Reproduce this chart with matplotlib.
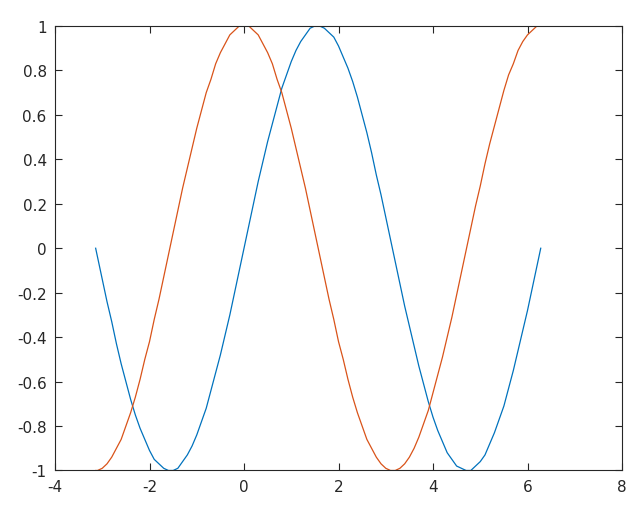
import matplotlib
matplotlib.use('Agg')
import matplotlib.pyplot as plt

plt.rcParams['axes.unicode_minus'] = False

# values
x = [-3.14, -3.1, -3.0, -2.9, -2.8, -2.7, -2.6, -2.5, -2.4, -2.3, -2.2,
     -2.1, -2.0, -1.9, -1.8, -1.7, -1.6, -1.5, -1.4, -1.3, -1.2,
     -1.1, -1.0, -0.9, -0.8, -0.7, -0.6, -0.5, -0.4, -0.3, -0.2,
     -0.1, 0.0, 0.1, 0.2, 0.3, 0.4, 0.5, 0.6, 0.7, 0.8,
     0.9, 1.0, 1.1, 1.2, 1.3, 1.4, 1.5, 1.6, 1.7, 1.8,
     1.9, 2.0, 2.1, 2.2, 2.3, 2.4, 2.5, 2.6, 2.7, 2.8,
     2.9, 3.0, 3.1, 3.2, 3.3, 3.4, 3.5, 3.6, 3.7, 3.8,
     3.9, 4.0, 4.1, 4.2, 4.3, 4.4, 4.5, 4.6, 4.7, 4.8,
     4.9, 5.0, 5.1, 5.2, 5.3, 5.4, 5.5, 5.6, 5.7, 5.8,
     5.9, 6.0, 6.1, 6.2, 6.28]
blue = [0.00, -0.04, -0.14, -0.24, -0.33, -0.43, -0.52, -0.60, -0.68, -0.75, -0.81,
        -0.86, -0.91, -0.95, -0.97, -0.99, -1.00, -1.00, -0.99, -0.96, -0.93,
        -0.89, -0.84, -0.78, -0.72, -0.64, -0.56, -0.48, -0.39, -0.30, -0.20,
        -0.10, 0.00, 0.10, 0.20, 0.30, 0.39, 0.48, 0.56, 0.64, 0.72,
        0.78, 0.84, 0.89, 0.93, 0.96, 0.99, 1.00, 1.00, 0.99, 0.97,
        0.95, 0.91, 0.86, 0.81, 0.75, 0.68, 0.60, 0.52, 0.43, 0.33,
        0.24, 0.14, 0.04, -0.06, -0.16, -0.26, -0.35, -0.44, -0.53, -0.61,
        -0.69, -0.76, -0.82, -0.87, -0.92, -0.95, -0.98, -0.99, -1.00, -1.00,
        -0.98, -0.96, -0.93, -0.88, -0.83, -0.77, -0.71, -0.63, -0.55, -0.46,
        -0.37, -0.28, -0.18, -0.08, 0.00]
orange = [-1.00, -1.00, -0.99, -0.97, -0.94, -0.90, -0.86, -0.80, -0.74, -0.67, -0.59,
          -0.50, -0.42, -0.32, -0.23, -0.13, -0.03, 0.07, 0.17, 0.27, 0.36,
          0.45, 0.54, 0.62, 0.70, 0.76, 0.83, 0.88, 0.92, 0.96, 0.98,
          1.00, 1.00, 1.00, 0.98, 0.96, 0.92, 0.88, 0.83, 0.76, 0.70,
          0.62, 0.54, 0.45, 0.36, 0.27, 0.17, 0.07, -0.03, -0.13, -0.23,
          -0.32, -0.42, -0.50, -0.59, -0.67, -0.74, -0.80, -0.86, -0.90, -0.94,
          -0.97, -0.99, -1.00, -1.00, -0.99, -0.97, -0.94, -0.90, -0.85, -0.79,
          -0.73, -0.65, -0.57, -0.49, -0.40, -0.31, -0.21, -0.11, -0.01, 0.09,
          0.19, 0.28, 0.38, 0.47, 0.55, 0.63, 0.71, 0.78, 0.83, 0.89,
          0.93, 0.96, 0.98, 1.00, 1.00]

xticks = [-4, -2, 0, 2, 4, 6, 8]
yticks = [-1, -0.8, -0.6, -0.4, -0.2, 0, 0.2, 0.4, 0.6, 0.8, 1]
ylabels = ['-1', '-0.8', '-0.6', '-0.4', '-0.2', '0', '0.2', '0.4', '0.6', '0.8', '1']

fig = plt.figure(figsize=(6.39, 5.1), dpi=100)
ax = fig.add_axes([0.0861, 0.0755, 0.8873, 0.8716])

ax.plot(x, blue, color='#0072BD', lw=0.9)
ax.plot(x, orange, color='#D95319', lw=0.9)

ax.set_xlim(-4, 8)
ax.set_ylim(-1, 1)
ax.set_xticks(xticks)
ax.set_xticklabels([str(t) for t in xticks])
ax.set_yticks(yticks)
ax.set_yticklabels(ylabels)

ax.tick_params(direction='in', top=True, right=True, length=5, width=0.8,
               color='#262626', labelcolor='#262626', labelsize=11, pad=6)
for s in ax.spines.values():
    s.set_color('#262626')
    s.set_linewidth(0.8)

fig.savefig('out.png', dpi=100, facecolor='white')
